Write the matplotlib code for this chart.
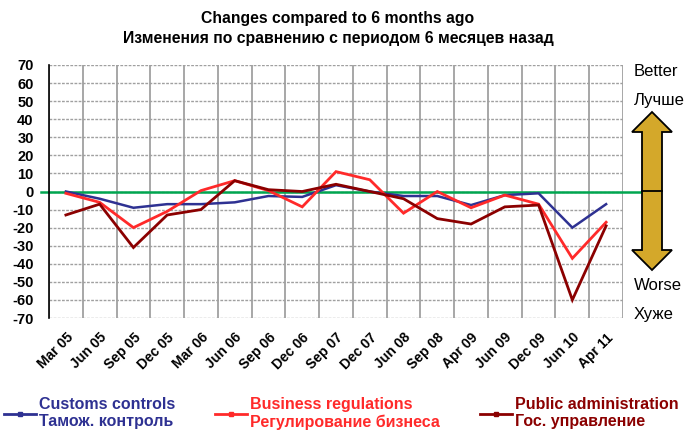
import matplotlib
matplotlib.use("Agg")
from matplotlib import pyplot as plt
from matplotlib.patches import Polygon
from matplotlib.lines import Line2D

plt.rcParams['font.family'] = ['Liberation Sans', 'DejaVu Sans']

periods = ['Mar 05', 'Jun 05', 'Sep 05', 'Dec 05', 'Mar 06', 'Jun 06', 'Sep 06',
           'Dec 06', 'Sep 07', 'Dec 07', 'Jun 08', 'Sep 08', 'Apr 09', 'Jun 09',
           'Dec 09', 'Jun 10', 'Apr 11']
customs = [0, -4, -9, -7, -7, -6, -2.5, -3, 3.5, 0, -2.5, -2.5, -7.5, -2, -1, -20, -7]
business = [-1, -6, -20, -11, 0.5, 6, 0.5, -8.5, 11, 6.5, -12, 0, -9, -2, -7, -37, -17]
public = [-13, -7, -31, -13, -10, 6, 1, 0, 4, 0, -4, -15, -18, -8.5, -7.5, -60, -19]

series = [
    (customs, '#2e3192', 1.8, 'Customs controls\nТамож. контроль'),
    (business, '#ff2a2a', 2.0, 'Business regulations\nРегулирование бизнеса'),
    (public, '#8b0000', 2.0, 'Public administration\nГос. управление'),
]

W, H = 684, 432
fig = plt.figure(figsize=(W / 100, H / 100), dpi=100)
ax = fig.add_axes([49 / W, 1 - 318 / H, (623 - 49) / W, (318 - 65) / H])

n = len(periods)
xs = list(range(n))
for vals, col, lw, lab in series:
    ax.plot(xs, vals, color=col, lw=lw, solid_joinstyle='miter')

ax.set_xlim(-0.5, n - 0.5)
ax.set_ylim(-70, 70)
ax.set_yticks(range(-70, 71, 10))
ax.set_yticklabels([str(v) for v in range(-70, 71, 10)], fontsize=10.5, fontweight='bold')
ax.tick_params(axis='y', length=0, pad=11)
ax.set_xticks(xs)
ax.set_xticklabels(periods, rotation=45, ha='right', va='top', rotation_mode='anchor',
                   fontsize=10, fontweight='bold')
ax.tick_params(axis='x', length=0, pad=9)

for y in range(-70, 71, 10):
    ax.axhline(y, color='#a0a0a0', lw=1.0, ls=(0, (2, 1)), zorder=0)
for i in range(n + 1):
    ax.axvline(i - 0.5, color='#a0a0a0', lw=1.3, zorder=0)

for s in ['top', 'right', 'bottom']:
    ax.spines[s].set_visible(False)
ax.spines['left'].set_color('black')
ax.spines['left'].set_linewidth(1.2)

ax.plot([-0.75, n + 0.0], [0, 0], color='#00a650', lw=1.8, clip_on=False, zorder=1)

fig.text(0.494, 1 - 19 / H, 'Changes compared to 6 months ago', ha='center', va='center',
         fontsize=11.3, fontweight='bold')
fig.text(0.494, 1 - 38 / H, 'Изменения по сравнению с периодом 6 месяцев назад',
         ha='center', va='center', fontsize=11.3, fontweight='bold')

# better / worse arrow
def fp(x, y):
    return (x / W, 1 - y / H)

arrow = [fp(652, 112), fp(672, 132), fp(662, 132), fp(662, 250), fp(672, 250),
         fp(652, 270), fp(632, 250), fp(642, 250), fp(642, 132), fp(632, 132)]
fig.patches.append(Polygon(arrow, closed=True, transform=fig.transFigure,
                           facecolor='#d4a82a', edgecolor='black', lw=1.3))
fig.lines.append(Line2D([642 / W, 662 / W], [1 - 191 / H, 1 - 191 / H],
                        transform=fig.transFigure, color='black', lw=1.3))
for txt, y in [('Better', 71), ('Лучше', 101), ('Worse', 286), ('Хуже', 315)]:
    fig.text(634 / W, 1 - y / H, txt, ha='left', va='center', fontsize=12)

# legends
legx = [4, 215, 480]
for (vals, col, lw, lab), x0 in zip(series, legx):
    h = Line2D([], [], color=col, lw=2, marker='s', markersize=3)
    fig.legend([h], [lab], loc='upper left', bbox_to_anchor=(x0 / W, 1 - 397 / H),
               frameon=False, handlelength=2.0, handletextpad=0.2,
               borderaxespad=0, borderpad=0, prop={'weight': 'bold', 'size': 11.5},
               labelcolor='linecolor')

fig.savefig('out.png', dpi=100)
